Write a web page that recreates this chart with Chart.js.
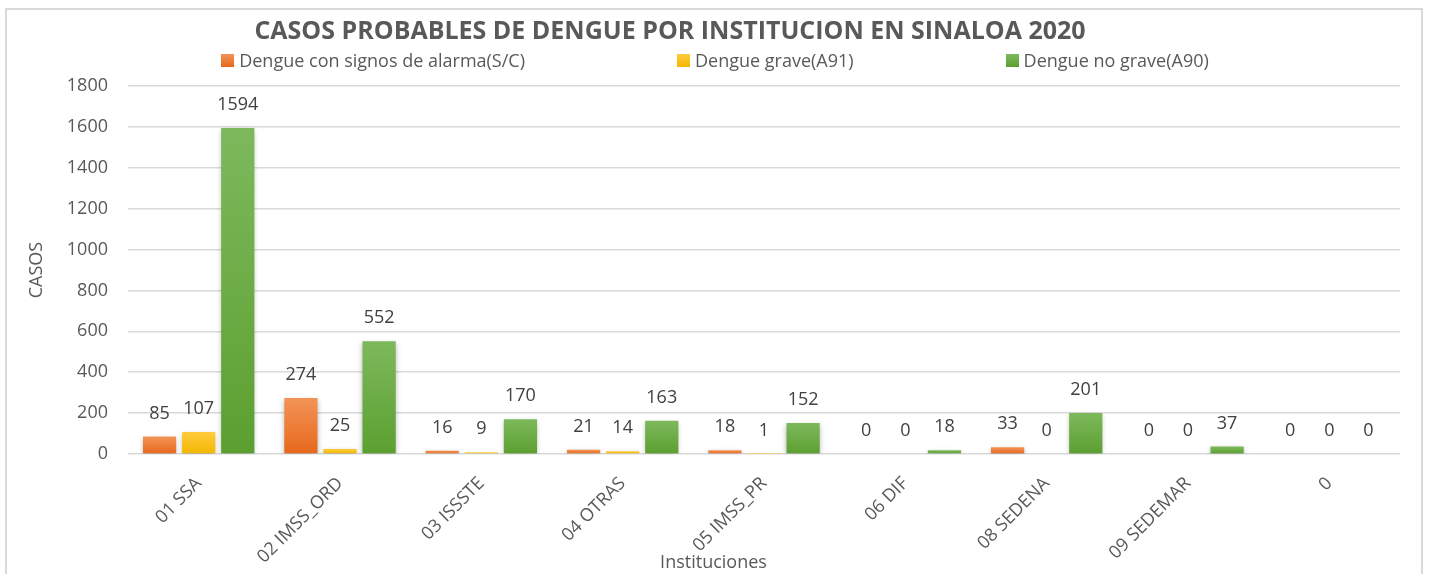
<!DOCTYPE html>
<html>
<head>
<meta charset="utf-8">
<script src="https://cdn.jsdelivr.net/npm/chart.js@4/dist/chart.umd.min.js"></script>
<style>
  html, body { margin: 0; padding: 0; background: #fff; }
  #wrap { position: relative; width: 1433px; height: 574px; overflow: hidden; }
  #frame { position: absolute; left: 5px; top: 8px; width: 1418px; height: 600px; border: 2px solid #d9d9d9; box-sizing: border-box; }
  #legend { position: absolute; left: 0; width: 1430px; top: 48px; display: flex; justify-content: center; gap: 152px;
            font-family: "Open Sans", sans-serif; font-size: 18px; color: #595959; }
  #legend span.item { display: flex; align-items: center; }
  #legend i { display: inline-block; width: 13px; height: 13px; margin-right: 5px; }
  canvas { position: absolute; left: 0; top: 0; }
</style>
</head>
<body>
<div id="wrap">
  <div id="frame"></div>
  <canvas id="chart" width="1433" height="574"></canvas>
  <div id="legend"></div>
</div>
<script>
// datos
const instituciones = ['01 SSA', '02 IMSS_ORD', '03 ISSSTE', '04 OTRAS', '05 IMSS_PR', '06 DIF', '08 SEDENA', '09 SEDEMAR', '0'];
const conAlarma = [85, 274, 16, 21, 18, 0, 33, 0, 0];
const grave = [107, 25, 9, 14, 1, 0, 0, 0, 0];
const noGrave = [1594, 552, 170, 163, 152, 18, 201, 37, 0];
const yTicks = [0, 200, 400, 600, 800, 1000, 1200, 1400, 1600, 1800];

const titulo = 'CASOS PROBABLES DE DENGUE POR INSTITUCION EN SINALOA 2020';

const series = [
    { label: 'Dengue con signos de alarma(S/C)', data: conAlarma, top: '#f29458', bottom: '#e7681b' },
    { label: 'Dengue grave(A91)', data: grave, top: '#ffcb3c', bottom: '#f3b700' },
    { label: 'Dengue no grave(A90)', data: noGrave, top: '#7db95c', bottom: '#5c9f30' }
];

const FONT = '"Open Sans", sans-serif';

// gradiente por barra
function barGradient(top, bottom) {
    return function(context) {
        const chart = context.chart;
        const sy = chart.scales.y;
        if (!chart.chartArea || !sy || context.raw === undefined) return bottom;
        const y0 = sy.getPixelForValue(context.raw);
        const y1 = sy.getPixelForValue(0);
        if (!isFinite(y0) || !isFinite(y1) || y1 - y0 < 1) return top;
        const g = chart.ctx.createLinearGradient(0, y0, 0, y1);
        g.addColorStop(0, top);
        g.addColorStop(1, bottom);
        return g;
    };
}

// sombra de las barras
const barShadow = {
    id: 'barShadow',
    beforeDatasetsDraw(chart) {
        const ctx = chart.ctx;
        ctx.save();
        ctx.shadowColor = 'rgba(0,0,0,0.28)';
        ctx.shadowBlur = 5;
        ctx.shadowOffsetY = 2;
    },
    afterDatasetsDraw(chart) {
        chart.ctx.restore();
    }
};

// etiquetas de valores, titulo y titulo del eje x
const textos = {
    id: 'textos',
    afterDatasetsDraw(chart) {
        const ctx = chart.ctx;
        ctx.save();
        ctx.font = '18px ' + FONT;
        ctx.fillStyle = '#404040';
        ctx.textAlign = 'center';
        ctx.textBaseline = 'middle';
        chart.data.datasets.forEach((ds, i) => {
            const meta = chart.getDatasetMeta(i);
            meta.data.forEach((el, j) => {
                ctx.fillText(String(ds.data[j]), el.x, el.y - 23);
            });
        });
        ctx.fillStyle = '#595959';
        ctx.fillText('Instituciones', chart.width / 2 - 3, chart.height - 11);
        ctx.font = 'bold 25px ' + FONT;
        ctx.fillText(titulo, 670, 32);
        ctx.restore();
    }
};

// leyenda en html
const legendEl = document.getElementById('legend');
series.forEach(s => {
    const item = document.createElement('span');
    item.className = 'item';
    item.innerHTML = '<i style="background:linear-gradient(' + s.top + ',' + s.bottom + ')"></i>' + s.label;
    legendEl.appendChild(item);
});

const ctx = document.getElementById('chart').getContext('2d');
const chart = new Chart(ctx, {
    type: 'bar',
    data: {
        labels: instituciones,
        datasets: series.map(s => ({
            label: s.label,
            data: s.data,
            backgroundColor: barGradient(s.top, s.bottom),
            borderWidth: 0,
            categoryPercentage: 0.83,
            barPercentage: 0.85
        }))
    },
    options: {
        responsive: false,
        animation: false,
        layout: { padding: { left: 20, right: 33, top: 86, bottom: 0 } },
        plugins: {
            legend: { display: false },
            tooltip: { enabled: false },
            title: { display: false }
        },
        scales: {
            x: {
                grid: { display: false },
                border: { display: false },
                ticks: {
                    color: '#595959',
                    font: { family: FONT, size: 18 },
                    minRotation: 45,
                    maxRotation: 45,
                    padding: 11
                },
                afterFit(scale) { scale.height = 120; }
            },
            y: {
                min: 0,
                max: 1800,
                afterBuildTicks(scale) { scale.ticks = yTicks.map(v => ({ value: v })); },
                grid: { color: '#d9d9d9', lineWidth: 1.5, drawTicks: false },
                border: { display: false },
                ticks: {
                    color: '#595959',
                    font: { family: FONT, size: 18 },
                    padding: 20,
                    callback: v => String(v)
                },
                title: {
                    display: true,
                    text: 'CASOS',
                    color: '#595959',
                    font: { family: FONT, size: 18 },
                    padding: { top: 6, bottom: 0 }
                },
                afterFit(scale) { scale.width = 108; }
            }
        }
    },
    plugins: [barShadow, textos]
});
</script>
</body>
</html>
